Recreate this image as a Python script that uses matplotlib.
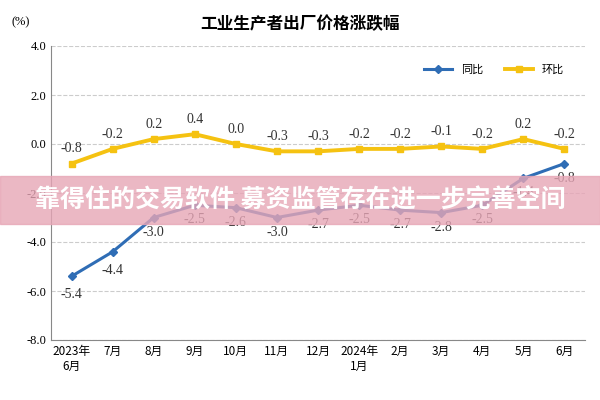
import matplotlib
matplotlib.use("Agg")
import matplotlib.pyplot as plt
from matplotlib.patches import Rectangle

months = ["2023年\n6月", "7月", "8月", "9月", "10月", "11月", "12月", "2024年\n1月",
          "2月", "3月", "4月", "5月", "6月"]
yoy = [-5.4, -4.4, -3.0, -2.5, -2.6, -3.0, -2.7, -2.5, -2.7, -2.8, -2.5, -1.4, -0.8]
mom = [-0.8, -0.2, 0.2, 0.4, 0.0, -0.3, -0.3, -0.2, -0.2, -0.1, -0.2, 0.2, -0.2]
yticks = [4.0, 2.0, 0.0, -2.0, -4.0, -6.0, -8.0]

CJK = "Noto Sans CJK SC"
NUM = "Liberation Serif"
BLUE = "#2f6db5"
GOLD = "#f5c211"

fig = plt.figure(figsize=(6, 4), dpi=100)
ax = fig.add_axes([0.085, 0.15, 0.89, 0.735])
x = range(len(months))
ax.plot(x, yoy, color=BLUE, lw=2.2, marker="D", ms=4, label="同比")
ax.plot(x, mom, color=GOLD, lw=2.8, marker="s", ms=5, label="环比")

for i, v in enumerate(yoy):
    dy = -0.75 if i < 2 else -0.6
    ax.text(i, v + dy, f"{v:.1f}", ha="center", va="center", fontsize=10,
            family=NUM, color="#333333")
for i, v in enumerate(mom):
    ax.text(i, v + 0.6, f"{v:.1f}", ha="center", va="center", fontsize=10,
            family=NUM, color="#333333")

ax.set_ylim(-8, 4)
ax.set_xlim(-0.5, len(months) - 0.5)
ax.set_yticks(yticks)
ax.set_yticklabels([f"{t:.1f}" for t in yticks], family=NUM, fontsize=9)
ax.set_xticks(list(x))
ax.set_xticklabels(months, family=CJK, fontsize=8.5)
ax.grid(axis="y", ls="--", color="#cccccc", lw=0.8)
for s in ["top", "right"]:
    ax.spines[s].set_visible(False)
ax.spines["left"].set_color("#888888")
ax.spines["bottom"].set_color("#888888")
ax.tick_params(length=0)
ax.legend(loc="upper right", bbox_to_anchor=(0.98, 0.97), ncol=2, frameon=False,
          prop={"family": CJK, "size": 8}, handlelength=2.5)

fig.text(0.5, 0.94, "工业生产者出厂价格涨跌幅", ha="center", va="center",
         family=CJK, fontsize=12, weight="bold")
fig.text(0.02, 0.945, "(%)", ha="left", va="center", family=NUM, fontsize=9)

# overlay banner
fig.patches.append(Rectangle((0, 0.44), 1, 0.12, transform=fig.transFigure,
                             color="#e7a6b6", alpha=0.8, zorder=5))
fig.text(0.5, 0.5, "靠得住的交易软件 募资监管存在进一步完善空间", ha="center",
         va="center", family=CJK, fontsize=18, weight="bold", color="white", zorder=6)

fig.savefig("out.png", dpi=100)
